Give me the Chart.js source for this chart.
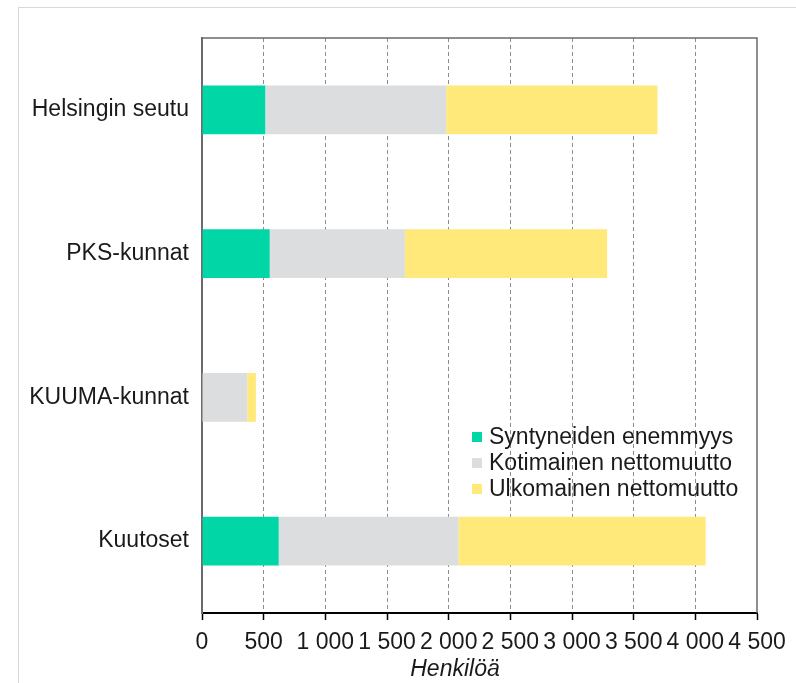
<!DOCTYPE html>
<html>
<head>
<meta charset="utf-8">
<script src="https://cdn.jsdelivr.net/npm/chart.js@4"></script>
<style>
  html, body { margin: 0; padding: 0; background: #fff; }
  #wrap { position: relative; width: 796px; height: 683px; overflow: hidden; }
  #frame { position: absolute; left: 18px; top: 7px; width: 900px; height: 800px;
           border-left: 1px solid #d9d9d9; border-top: 1px solid #d9d9d9; }
  #chartMuutos { position: absolute; left: 0; top: 0; }
</style>
</head>
<body>
<div id="wrap">
  <div id="frame"></div>
  <canvas id="chartMuutos" width="796" height="683"></canvas>
</div>
<script>
// data
const alueet = ['Helsingin seutu', 'PKS-kunnat', 'KUUMA-kunnat', 'Kuutoset'];
const sarjat = ['Syntyneiden enemmyys', 'Kotimainen nettomuutto', 'Ulkomainen nettomuutto'];
const syntyneet = [513, 549, 0, 622];
const kotimainen = [1467, 1096, 367, 1457];
const ulkomainen = [1713, 1640, 70, 2005];
const xTicks = ['0', '500', '1 000', '1 500', '2 000', '2 500', '3 000', '3 500', '4 000', '4 500'];
const xTitle = 'Henkilöä';

const VARIT = ['#00d6a6', '#dcddde', '#ffe97a'];
const TEKSTI = '#1a1a1a';
const FONTTI = "'Liberation Sans', Arial, sans-serif";

Chart.defaults.font.family = FONTTI;
Chart.defaults.font.size = 23;
Chart.defaults.color = TEKSTI;

// frame, legend inside the plot and the axis title
const koristeet = {
  id: 'koristeet',
  afterDraw(chart) {
    const { ctx, chartArea: a } = chart;
    ctx.save();
    ctx.strokeStyle = '#6b6b6b';
    ctx.lineWidth = 1.5;
    ctx.beginPath();
    ctx.moveTo(a.left, a.top);
    ctx.lineTo(a.right, a.top);
    ctx.lineTo(a.right, a.bottom);
    ctx.stroke();

    ctx.font = '23px ' + FONTTI;
    ctx.textBaseline = 'middle';
    ctx.textAlign = 'left';
    chart.data.datasets.forEach((ds, i) => {
      const y = 437 + i * 26;
      ctx.fillStyle = ds.backgroundColor;
      ctx.fillRect(472, y - 5, 10, 10);
      ctx.fillStyle = TEKSTI;
      ctx.fillText(ds.label, 489, y + 1);
    });

    ctx.font = 'italic 23px ' + FONTTI;
    ctx.textAlign = 'center';
    ctx.textBaseline = 'alphabetic';
    ctx.fillText(xTitle, 455, 676);
    ctx.restore();
  }
};

const ctx = document.getElementById('chartMuutos').getContext('2d');
const chartMuutos = new Chart(ctx, {
  type: 'bar',
  data: {
    labels: alueet,
    datasets: [
      { label: sarjat[0], data: syntyneet, backgroundColor: VARIT[0] },
      { label: sarjat[1], data: kotimainen, backgroundColor: VARIT[1] },
      { label: sarjat[2], data: ulkomainen, backgroundColor: VARIT[2] },
    ]
  },
  options: {
    indexAxis: 'y',
    responsive: false,
    animation: false,
    layout: { padding: { top: 38, right: 39, left: 0, bottom: 0 } },
    datasets: {
      bar: { barPercentage: 0.34, categoryPercentage: 1, borderWidth: 0 }
    },
    scales: {
      x: {
        stacked: true,
        min: 0,
        max: 4500,
        ticks: {
          stepSize: 500,
          padding: 9,
          maxRotation: 0,
          autoSkip: false,
          callback: (value, index) => xTicks[index],
        },
        grid: {
          color: c => (c.index === 0 || c.index === xTicks.length - 1) ? 'rgba(0,0,0,0)' : '#8c8c8c',
          lineWidth: 1,
          tickLength: 7,
          tickColor: '#000',
          tickWidth: 1.5,
          tickBorderDash: [],
        },
        border: { color: '#000', width: 2, dash: [4, 3] },
        afterFit: scale => { scale.height = 70; },
      },
      y: {
        stacked: true,
        ticks: { padding: 13 },
        grid: { display: false, drawTicks: false },
        border: { color: '#6b6b6b', width: 2 },
        afterFit: scale => { scale.width = 202; },
      }
    },
    plugins: {
      legend: { display: false },
      tooltip: { enabled: false },
    }
  },
  plugins: [koristeet]
});
</script>
</body>
</html>
